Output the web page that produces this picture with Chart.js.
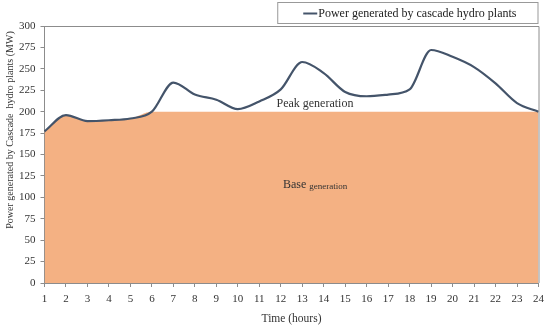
<!DOCTYPE html>
<html>
<head>
<meta charset="utf-8">
<script src="https://cdn.jsdelivr.net/npm/chart.js@4"></script>
<style>
html,body{margin:0;padding:0;background:#fff;}
#wrap{width:550px;height:327px;position:relative;}
</style>
</head>
<body>
<div id="wrap"><canvas id="c" width="550" height="327"></canvas></div>
<script>
const hours = ['1','2','3','4','5','6','7','8','9','10','11','12','13','14','15','16','17','18','19','20','21','22','23','24'];
const power = [177,196,189,190,192,200,234,220,214,203,212,226,258,245,223,218,220,226,272,264,252,233,210,200];
const baseLevel = 200;
const baseGen = power.map(v => Math.min(v, baseLevel));
const yTicks = [0,25,50,75,100,125,150,175,200,225,250,275,300];
const yTitle = 'Power generated by Cascade  hydro plants (MW)';
const xTitle = 'Time (hours)';

const SERIF = "'Liberation Serif', 'DejaVu Serif', serif";
const AXIS = '#8c8c8c';
const LINE = '#44546A';

const framePlugin = {
  id: 'frame',
  afterDraw(chart) {
    const {ctx, chartArea: a} = chart;
    ctx.save();
    ctx.strokeStyle = AXIS;
    ctx.lineWidth = 1;
    ctx.beginPath();
    ctx.moveTo(a.left, a.top + 0.5);
    ctx.lineTo(a.right + 0.5, a.top + 0.5);
    ctx.lineTo(a.right + 0.5, a.bottom);
    ctx.stroke();
    // legend box
    const label = chart.data.datasets[0].label;
    ctx.font = '12px ' + SERIF;
    const tw = ctx.measureText(label).width;
    const boxRight = a.right;
    const textX = boxRight - 22 - tw;
    ctx.strokeStyle = '#999';
    ctx.strokeRect(textX - 40.5, 2.5, boxRight - (textX - 40), 21);
    ctx.strokeStyle = LINE;
    ctx.lineWidth = 2;
    ctx.beginPath();
    ctx.moveTo(textX - 15, 13.5);
    ctx.lineTo(textX - 1, 13.5);
    ctx.stroke();
    ctx.fillStyle = '#222';
    ctx.textBaseline = 'middle';
    ctx.textAlign = 'left';
    ctx.fillText(label, textX, 13.5);
    // y title
    ctx.save();
    ctx.font = '10px ' + SERIF;
    ctx.fillStyle = '#333';
    ctx.textAlign = 'center';
    ctx.translate(10, 130);
    ctx.rotate(-Math.PI / 2);
    ctx.fillText(yTitle, 0, 0);
    ctx.restore();
    // annotations
    const xs = chart.scales.x, ys = chart.scales.y;
    ctx.fillStyle = '#333';
    ctx.font = '12px ' + SERIF;
    ctx.fillText('Peak generation', xs.getPixelForValue(10.8), ys.getPixelForValue(209));
    const bx = xs.getPixelForValue(11.1), by = ys.getPixelForValue(114);
    ctx.fillText('Base', bx, by);
    const w = ctx.measureText('Base ').width;
    ctx.font = '9px ' + SERIF;
    ctx.fillText('generation', bx + w, by + 1);
    ctx.restore();
  }
};

new Chart(document.getElementById('c'), {
  type: 'line',
  data: {
    labels: hours,
    datasets: [
      {
        label: 'Power generated by cascade hydro plants',
        data: power,
        borderColor: LINE,
        borderWidth: 2.2,
        pointRadius: 0,
        cubicInterpolationMode: 'monotone',
        fill: false,
        order: 0
      },
      {
        label: 'Base generation',
        data: baseGen,
        borderWidth: 0,
        borderColor: 'rgba(0,0,0,0)',
        backgroundColor: '#F4B183',
        pointRadius: 0,
        cubicInterpolationMode: 'monotone',
        fill: 'origin',
        order: 1
      }
    ]
  },
  options: {
    responsive: false,
    animation: false,
    layout: {padding: {left: 14, right: 2, top: 26, bottom: 1}},
    plugins: {
      legend: {display: false},
      tooltip: {enabled: false}
    },
    scales: {
      x: {
        type: 'category',
        offset: false,
        grid: {display: true, drawOnChartArea: false, color: AXIS, tickLength: 4},
        border: {color: AXIS},
        ticks: {color: '#333', font: {family: SERIF, size: 11}, maxRotation: 0, autoSkip: false, padding: 6},
        title: {display: true, text: xTitle, color: '#333', font: {family: SERIF, size: 11.5}, padding: {top: 0, bottom: 0}}
      },
      y: {
        min: 0, max: 300,
        afterBuildTicks: s => { s.ticks = yTicks.map(v => ({value: v})); },
        grid: {display: true, drawOnChartArea: false, color: AXIS, tickLength: 4},
        border: {color: AXIS},
        ticks: {color: '#333', font: {family: SERIF, size: 11}, padding: 5},
        title: {display: false}
      }
    }
  },
  plugins: [framePlugin]
});
</script>
</body>
</html>
